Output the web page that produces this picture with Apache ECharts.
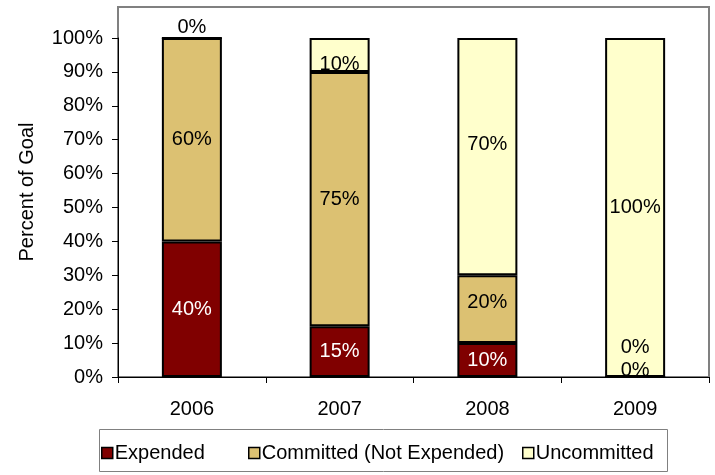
<!DOCTYPE html>
<html>
<head>
<meta charset="utf-8">
<script src="https://cdn.jsdelivr.net/npm/echarts@6/dist/echarts.min.js"></script>
<style>
  html, body { margin: 0; padding: 0; background: #fff; }
  #chart { width: 715px; height: 475px; }
</style>
</head>
<body>
<div id="chart"></div>
<script>
// Program years and share of goal (percent) in each funding state
const years = ['2006', '2007', '2008', '2009'];
const expended = [40, 15, 10, 0];
const committed = [60, 75, 20, 0];
const uncommitted = [0, 10, 70, 100];
const yTicks = [0, 10, 20, 30, 40, 50, 60, 70, 80, 90, 100];
const seriesNames = ['Expended', 'Committed (Not Expended)', 'Uncommitted'];

const FONT = 'Liberation Sans, Arial, sans-serif';
const FS = 20;

// small vertical nudges for the value labels so neighbouring ones don't collide
const labelNudge = [
  [0, 0, 0, -7],
  [0, 0, -7, -30],
  [-11, 10, -12, 0]
];

function makeSeries(idx, values, color, textColor) {
  return {
    name: seriesNames[idx],
    type: 'bar',
    stack: 'total',
    barWidth: 60,
    itemStyle: { color: color, borderColor: '#000', borderWidth: 2 },
    label: {
      show: true,
      position: 'inside',
      formatter: '{c}%',
      fontFamily: FONT,
      fontSize: FS,
      color: textColor
    },
    data: values.map((v, i) => ({
      value: v,
      label: {
        offset: [0, labelNudge[idx][i]],
        color: v === 0 ? '#000' : textColor
      }
    }))
  };
}

// one legend entry per component so each can sit at its own spot in the key box
const legendLefts = [101, 248, 522];
const legends = seriesNames.map((n, i) => ({
  left: legendLefts[i],
  top: 443,
  padding: 0,
  itemWidth: 11,
  itemHeight: 11,
  itemGap: 0,
  icon: 'rect',
  itemStyle: { borderColor: '#000', borderWidth: 1.5 },
  textStyle: { color: '#000', fontFamily: FONT, fontSize: FS, padding: [0, 0, 0, -3] },
  data: [n]
}));

const chart = echarts.init(document.getElementById('chart'), null, { renderer: 'canvas' });

chart.setOption({
  animation: false,
  backgroundColor: '#fff',
  textStyle: { fontFamily: FONT },
  grid: { left: 118, right: 6, top: 38, bottom: 98, containLabel: false },
  xAxis: {
    type: 'category',
    data: years,
    axisLine: { lineStyle: { color: '#000', width: 1 } },
    axisTick: { show: true, alignWithLabel: false, length: 6, lineStyle: { color: '#000' } },
    axisLabel: { color: '#000', fontFamily: FONT, fontSize: FS, margin: 22 },
    splitLine: { show: false }
  },
  yAxis: {
    type: 'value',
    min: yTicks[0],
    max: yTicks[yTicks.length - 1],
    interval: yTicks[1] - yTicks[0],
    axisLine: { show: true, lineStyle: { color: '#000', width: 1 } },
    axisTick: { show: true, length: 6, lineStyle: { color: '#000' } },
    axisLabel: { color: '#000', fontFamily: FONT, fontSize: FS, margin: 15, formatter: '{value}%' },
    splitLine: { show: false }
  },
  legend: legends,
  graphic: [
    {
      type: 'rect',
      silent: true,
      z: -1,
      shape: { x: 118, y: 7, width: 591, height: 370 },
      style: { fill: 'none', stroke: '#808080', lineWidth: 2 }
    },
    {
      type: 'rect',
      silent: true,
      z: -1,
      shape: { x: 99.5, y: 429.5, width: 568, height: 42 },
      style: { fill: 'none', stroke: '#808080', lineWidth: 1 }
    },
    {
      type: 'text',
      silent: true,
      x: 27,
      y: 192,
      rotation: Math.PI / 2,
      style: {
        text: 'Percent of Goal',
        fontFamily: FONT,
        fontSize: FS,
        fill: '#000',
        align: 'center',
        verticalAlign: 'middle'
      }
    }
  ],
  series: [
    makeSeries(0, expended, '#800000', '#fff'),
    makeSeries(1, committed, '#dcc172', '#000'),
    makeSeries(2, uncommitted, '#ffffcc', '#000')
  ]
});
</script>
</body>
</html>
